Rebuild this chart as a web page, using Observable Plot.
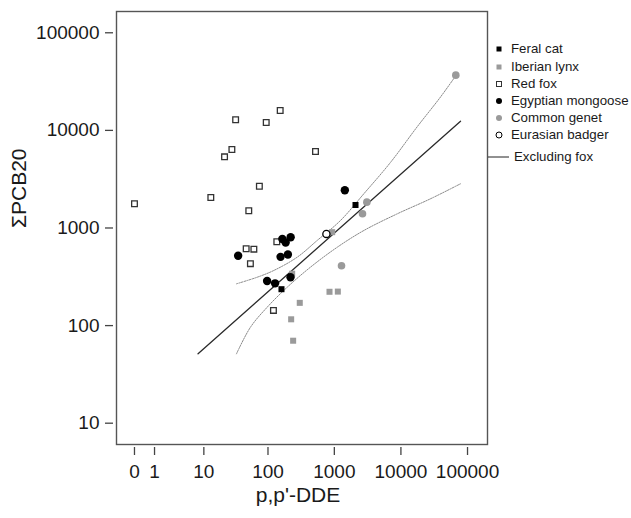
<!DOCTYPE html>
<html>
<head>
<meta charset="utf-8">
<script src="https://cdn.jsdelivr.net/npm/d3@7"></script>
<script src="https://cdn.jsdelivr.net/npm/@observablehq/plot@0.6"></script>
<style>
  html, body { margin: 0; padding: 0; background: #fff; }
  #wrap { position: relative; width: 631px; height: 518px; font-family: "Liberation Sans", Arial, sans-serif; }
  #wrap svg { display: block; }
  .lg { position: absolute; left: 0; font-size: 13.3px; color: #1a1a1a; line-height: 16px; white-space: nowrap; }
  .lg svg { position: absolute; top: 0; }
</style>
</head>
<body>
<div id="wrap"></div>
<script>
// ---- data ----
const species = ["Feral cat", "Iberian lynx", "Red fox", "Egyptian mongoose", "Common genet", "Eurasian badger"];

const foxX = [0, 32, 94, 153, 21.5, 28, 521, 13, 74, 51, 136, 46.5, 61, 54, 121];
const foxY = [1770, 12850, 12050, 16000, 5360, 6370, 6080, 2050, 2680, 1500, 722, 612, 607, 431, 143];

const mongooseX = [35, 165, 185, 220, 155, 200, 97, 128, 219, 1438];
const mongooseY = [520, 770, 710, 805, 506, 535, 286, 271, 313, 2440];

const catX = [160, 2080];
const catY = [236, 1720];

const lynxX = [302, 224, 240, 846, 1129, 928, 232];
const lynxY = [171, 116, 70, 222, 223, 906, 340];

const genetX = [1282, 2650, 3080, 66700];
const genetY = [410, 1400, 1840, 36800];

const badgerX = [760];
const badgerY = [870];

// regression excluding fox and its confidence band
const fitX = [8, 78500];
const fitY = [51.4, 12420];
const upperX = [33, 68.5, 122.5, 276, 552, 1238, 2772, 6981, 17580, 39350, 66070];
const upperY = [268, 313, 367, 502, 745, 1194, 2240, 4700, 10900, 22000, 36000];
const lowerX = [33, 54.2, 97, 195, 438, 1105, 2772, 8790, 27800, 78500];
const lowerY = [51.4, 96.4, 154, 247, 397, 635, 942, 1396, 1991, 2838];

const xTicks = [0, 1, 10, 100, 1000, 10000, 100000];
const yTicks = [10, 100, 1000, 10000, 100000];
const xLabel = "p,p'-DDE";
const yLabel = "ΣPCB20";

// ---- build tables ----
const pts = (xs, ys) => xs.map((x, i) => ({x, y: ys[i]}));
const fox = pts(foxX, foxY), mong = pts(mongooseX, mongooseY), cat = pts(catX, catY);
const lynx = pts(lynxX, lynxY), genet = pts(genetX, genetY), badger = pts(badgerX, badgerY);
const fit = pts(fitX, fitY), upper = pts(upperX, upperY), lower = pts(lowerX, lowerY);

const GREY = "#9a9a9a";
const FONT = "'Liberation Sans', Arial, sans-serif";

const chart = Plot.plot({
  width: 631,
  height: 518,
  marginLeft: 116,
  marginRight: 144,
  marginTop: 11,
  marginBottom: 74,
  style: {fontFamily: FONT, background: "#fff", color: "#1a1a1a"},
  x: {type: "symlog", constant: 1, domain: [-0.862, 199500], label: null},
  y: {type: "log", domain: [6.05, 165200], label: null},
  marks: [
    Plot.frame({stroke: "#555", strokeWidth: 1.4}),
    Plot.axisX({ticks: xTicks, tickFormat: d => String(d), dy: 3, tickSize: 8, tickPadding: 9,
      fontSize: 19, stroke: "#444", strokeWidth: 1.3, label: null}),
    Plot.axisY({ticks: yTicks, tickFormat: d => String(d), dx: -3, tickSize: 8, tickPadding: 6,
      fontSize: 19, stroke: "#444", strokeWidth: 1.3, label: null}),
    Plot.text([xLabel], {frameAnchor: "bottom", dx: -4, dy: 57, fontSize: 21, fill: "#1a1a1a"}),
    Plot.text([yLabel], {frameAnchor: "left", dx: -97, rotate: -90, fontSize: 21, fill: "#1a1a1a"}),
    Plot.line(upper, {x: "x", y: "y", stroke: "#8a8a8a", strokeWidth: 1, strokeDasharray: "1.5,1.2", curve: "catmull-rom"}),
    Plot.line(lower, {x: "x", y: "y", stroke: "#8a8a8a", strokeWidth: 1, strokeDasharray: "1.5,1.2", curve: "catmull-rom"}),
    Plot.line(fit, {x: "x", y: "y", stroke: "#2a2a2a", strokeWidth: 1.3}),
    Plot.dot(fox, {x: "x", y: "y", symbol: "square", r: 3.2, fill: "#fff", stroke: "#333", strokeWidth: 1.3}),
    Plot.dot(lynx, {x: "x", y: "y", symbol: "square", r: 3.4, fill: GREY, stroke: "none"}),
    Plot.dot(genet, {x: "x", y: "y", symbol: "circle", r: 3.8, fill: GREY, stroke: "none"}),
    Plot.dot(mong, {x: "x", y: "y", symbol: "circle", r: 4.2, fill: "#000", stroke: "none"}),
    Plot.dot(cat, {x: "x", y: "y", symbol: "square", r: 3.4, fill: "#000", stroke: "none"}),
    Plot.dot(badger, {x: "x", y: "y", symbol: "circle", r: 3.6, fill: "#fff", stroke: "#000", strokeWidth: 1.3})
  ]
});

const wrap = document.getElementById("wrap");
wrap.appendChild(chart);

// ---- legend (right side) ----
const legendItems = [
  {label: species[0], kind: "sq", fill: "#000", stroke: "none"},
  {label: species[1], kind: "sq", fill: GREY, stroke: "none"},
  {label: species[2], kind: "sq", fill: "#fff", stroke: "#333"},
  {label: species[3], kind: "ci", fill: "#000", stroke: "none"},
  {label: species[4], kind: "ci", fill: GREY, stroke: "none"},
  {label: species[5], kind: "ci", fill: "#fff", stroke: "#000"}
];
const rowCenters = [49.3, 66.7, 83.7, 100.7, 117.5, 134.8];
legendItems.forEach((it, i) => {
  const d = document.createElement("div");
  d.className = "lg";
  d.style.top = (rowCenters[i] - 8) + "px";
  d.style.left = "493px";
  const icon = it.kind === "sq"
    ? `<rect x="2.5" y="5.5" width="5" height="5" fill="${it.fill}" stroke="${it.stroke}" stroke-width="1"/>`
    : `<circle cx="5" cy="8" r="3" fill="${it.fill}" stroke="${it.stroke}" stroke-width="1"/>`;
  d.innerHTML = `<svg width="12" height="16" style="left:1px">${icon}</svg><span style="position:absolute;left:18px;top:0">${it.label}</span>`;
  wrap.appendChild(d);
});
const fl = document.createElement("div");
fl.className = "lg";
fl.style.top = (156.7 - 8) + "px";
fl.style.left = "488px";
fl.innerHTML = `<svg width="22" height="16" style="left:0"><line x1="0" x2="21" y1="8" y2="8" stroke="#222" stroke-width="1"/></svg><span style="position:absolute;left:26px;top:0">Excluding fox</span>`;
wrap.appendChild(fl);
</script>
</body>
</html>
